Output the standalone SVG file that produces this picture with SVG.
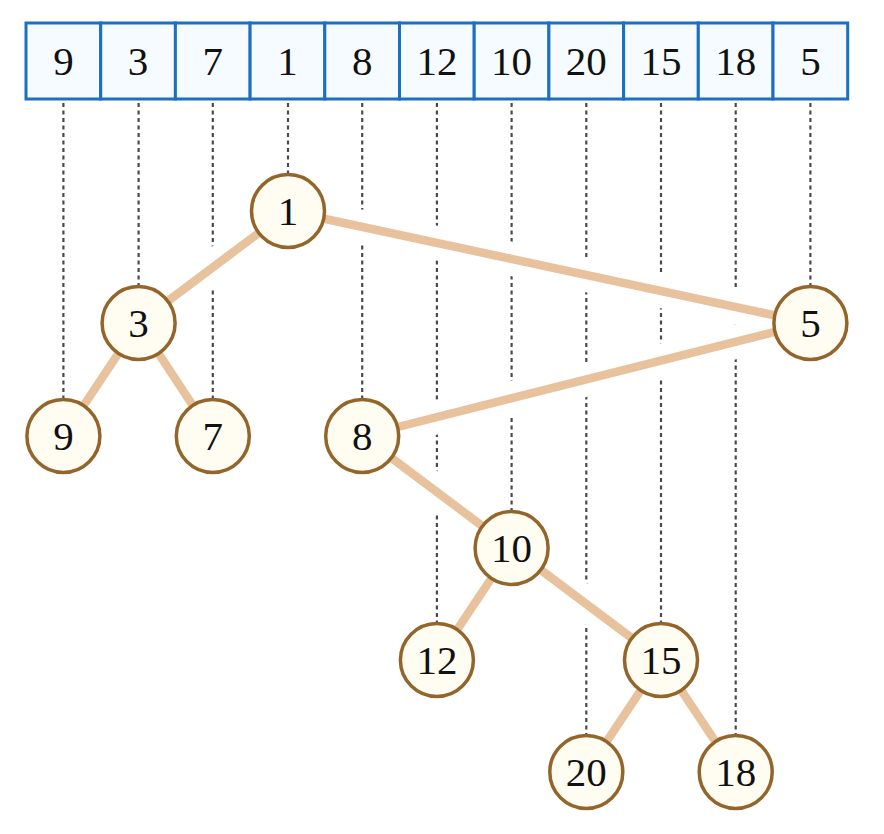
<svg xmlns="http://www.w3.org/2000/svg" width="884" height="834" viewBox="0 0 884 834">
<style>
.cell{fill:#f6fbff;stroke:#1c6fc2;stroke-width:3}
.t{font-family:"Liberation Serif","DejaVu Serif",serif;font-size:41px;fill:#111;text-anchor:middle}
.dash{stroke:#4a4a4a;stroke-width:2.2;stroke-dasharray:4 3.5;fill:none}
.halo{stroke:#fff;stroke-width:34;fill:none}
.edge{stroke:#e7c29d;stroke-width:8.5;fill:none}
.node circle{fill:#fffdf2;stroke:#94652b;stroke-width:3.5}
</style>
<rect width="884" height="834" fill="#fff"/>
<g id="array">
<rect class="cell" x="26" y="23" width="74.7" height="76"/><text class="t" x="63.4" y="75">9</text>
<rect class="cell" x="100.7" y="23" width="74.7" height="76"/><text class="t" x="138.1" y="75">3</text>
<rect class="cell" x="175.4" y="23" width="74.7" height="76"/><text class="t" x="212.8" y="75">7</text>
<rect class="cell" x="250.1" y="23" width="74.7" height="76"/><text class="t" x="287.5" y="75">1</text>
<rect class="cell" x="324.8" y="23" width="74.7" height="76"/><text class="t" x="362.2" y="75">8</text>
<rect class="cell" x="399.5" y="23" width="74.7" height="76"/><text class="t" x="436.9" y="75">12</text>
<rect class="cell" x="474.2" y="23" width="74.7" height="76"/><text class="t" x="511.6" y="75">10</text>
<rect class="cell" x="548.9" y="23" width="74.7" height="76"/><text class="t" x="586.3" y="75">20</text>
<rect class="cell" x="623.6" y="23" width="74.7" height="76"/><text class="t" x="661" y="75">15</text>
<rect class="cell" x="698.3" y="23" width="74.7" height="76"/><text class="t" x="735.7" y="75">18</text>
<rect class="cell" x="773" y="23" width="74.7" height="76"/><text class="t" x="810.4" y="75">5</text>
</g>
<g id="guides">
<line class="dash" x1="63.4" y1="103" x2="63.4" y2="398"/>
<line class="dash" x1="138.6" y1="103" x2="138.6" y2="286"/>
<line class="dash" x1="212.8" y1="103" x2="212.8" y2="398"/>
<line class="dash" x1="288" y1="103" x2="288" y2="174"/>
<line class="dash" x1="362.2" y1="103" x2="362.2" y2="398"/>
<line class="dash" x1="436.9" y1="103" x2="436.9" y2="622"/>
<line class="dash" x1="511.6" y1="103" x2="511.6" y2="510"/>
<line class="dash" x1="586.3" y1="103" x2="586.3" y2="734"/>
<line class="dash" x1="661" y1="103" x2="661" y2="622"/>
<line class="dash" x1="735.7" y1="103" x2="735.7" y2="734"/>
<line class="dash" x1="810.4" y1="103" x2="810.4" y2="286"/>
</g>
<g id="connectors">
<g class="halo-set">
<line class="halo" x1="288" y1="211" x2="138.6" y2="323"/>
<line class="halo" x1="288" y1="211" x2="810.4" y2="323"/>
<line class="halo" x1="810.4" y1="323" x2="362.2" y2="436"/>
<line class="halo" x1="362.2" y1="436" x2="511.6" y2="548"/>
<line class="halo" x1="511.6" y1="548" x2="661" y2="660"/>
</g>
<line class="edge" x1="288" y1="211" x2="138.6" y2="323"/>
<line class="edge" x1="288" y1="211" x2="810.4" y2="323"/>
<line class="edge" x1="138.6" y1="323" x2="63.4" y2="436"/>
<line class="edge" x1="138.6" y1="323" x2="212.8" y2="436"/>
<line class="edge" x1="810.4" y1="323" x2="362.2" y2="436"/>
<line class="edge" x1="362.2" y1="436" x2="511.6" y2="548"/>
<line class="edge" x1="511.6" y1="548" x2="436.9" y2="660"/>
<line class="edge" x1="511.6" y1="548" x2="661" y2="660"/>
<line class="edge" x1="661" y1="660" x2="586.3" y2="772"/>
<line class="edge" x1="661" y1="660" x2="735.7" y2="772"/>
</g>
<g id="n1" class="node"><circle cx="288" cy="211" r="36.5"/><text class="t" x="288" y="225">1</text></g>
<g id="n3" class="node"><circle cx="138.6" cy="323" r="36.5"/><text class="t" x="138.6" y="337">3</text></g>
<g id="n5" class="node"><circle cx="810.4" cy="323" r="36.5"/><text class="t" x="810.4" y="337">5</text></g>
<g id="n9" class="node"><circle cx="63.4" cy="436" r="36.5"/><text class="t" x="63.4" y="450">9</text></g>
<g id="n7" class="node"><circle cx="212.8" cy="436" r="36.5"/><text class="t" x="212.8" y="450">7</text></g>
<g id="n8" class="node"><circle cx="362.2" cy="436" r="36.5"/><text class="t" x="362.2" y="450">8</text></g>
<g id="n10" class="node"><circle cx="511.6" cy="548" r="36.5"/><text class="t" x="511.6" y="562">10</text></g>
<g id="n12" class="node"><circle cx="436.9" cy="660" r="36.5"/><text class="t" x="436.9" y="674">12</text></g>
<g id="n15" class="node"><circle cx="661" cy="660" r="36.5"/><text class="t" x="661" y="674">15</text></g>
<g id="n20" class="node"><circle cx="586.3" cy="772" r="36.5"/><text class="t" x="586.3" y="786">20</text></g>
<g id="n18" class="node"><circle cx="735.7" cy="772" r="36.5"/><text class="t" x="735.7" y="786">18</text></g>
</svg>
